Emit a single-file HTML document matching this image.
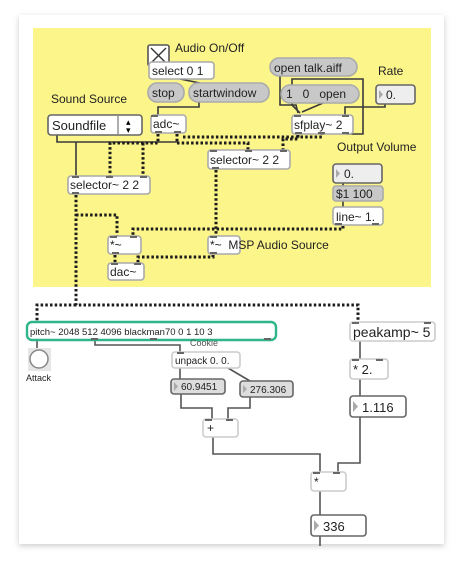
<!DOCTYPE html>
<html><head><style>
html,body{margin:0;padding:0;background:#fff;}
body{width:463px;height:560px;overflow:hidden;position:relative;font-family:"Liberation Sans",sans-serif;}
text{white-space:pre;}
</style></head><body>
<svg width="463" height="560" xmlns="http://www.w3.org/2000/svg" font-family="Liberation Sans, sans-serif">
<defs>
<filter id="sh" x="-5%" y="-5%" width="110%" height="110%"><feGaussianBlur stdDeviation="3"/></filter>
</defs>
<rect x="19" y="17" width="425" height="529" fill="#ccc" filter="url(#sh)"/>
<rect x="19" y="15" width="425" height="529" fill="#fff"/>
<rect x="33" y="28" width="398" height="259" fill="#fbf58a"/>

<g fill="none" stroke="#3a3a3a" stroke-width="1.6">
<path d="M57 135 V142 H178"/>
<path d="M76 142 V176"/>
<path d="M180 79 L200 83"/>
<path d="M199 102 V107 H158 V115"/>
<path d="M280 76 V105 H296 L298 113"/>
<path d="M346 134 H363 V79 H292 V105 L300 113"/>
<path d="M323 103 L302 112"/>
<path d="M385 104 V107 H345 V115"/>
<path d="M343 183 V186 M343 201 V207"/>
</g>
<g fill="none" stroke="#555" stroke-width="1.6">
<path d="M37 340 V348"/>
<path d="M95 340 V345 H180 V352"/>
<path d="M180 368 V379"/>
<path d="M228 368 L250 381"/>
<path d="M181 394 V408 H212 V419"/>
<path d="M250 397 V408 H228 V419"/>
<path d="M213 437 V454 H320 V472"/>
<path d="M360 341 V359"/>
<path d="M360 379 V396"/>
<path d="M360 417 V463 H338 V472"/>
<path d="M320 491 V515"/>
<path d="M320 536 V546"/>
</g>

<g fill="none" stroke="#1c1c1c" stroke-width="3" stroke-dasharray="2.5,2.2">
<path d="M158 134 V143 H110 V176"/>
<path d="M177 134 V143"/>
<path d="M143 143 V176"/>
<path d="M183 137 H322 V134"/>
<path d="M177 143 H248 V150"/>
<path d="M298 135 V139 H283 V150"/>
<path d="M216 170 V236"/>
<path d="M76 195 V305 H358 V322"/>
<path d="M76 305 H37 V322"/>
<path d="M76 215 H117 V236"/>
<path d="M343 226 V229 H133 V236"/>
<path d="M115 255 V263"/>
<path d="M213 255 V257 H138 V263"/>
</g>

<g stroke-width="1.6">
<rect x="148" y="45" width="21" height="21" fill="#fff" stroke="#555" rx="2"/>
<path d="M151 48 L166 63 M166 48 L151 63" stroke="#333" stroke-width="1.4"/>
<rect x="149" y="62" width="65" height="17" rx="3" fill="#fff" stroke="#aaa"/>
<rect x="148" y="83" width="36" height="19" rx="9" fill="#c8c8c8" stroke="#aaa"/>
<rect x="189" y="83" width="80" height="19" rx="9" fill="#c8c8c8" stroke="#aaa"/>
<rect x="48" y="115" width="94" height="20" rx="3" fill="#fff" stroke="#666"/>
<line x1="118" y1="116" x2="118" y2="134" stroke="#999"/>
<rect x="151" y="115" width="35" height="18" rx="3" fill="#fff" stroke="#aaa"/>
<rect x="270" y="58" width="87" height="18" rx="9" fill="#c8c8c8" stroke="#aaa"/>
<rect x="281" y="85" width="78" height="18" rx="9" fill="#c8c8c8" stroke="#aaa"/>
<rect x="376" y="85" width="39" height="19" rx="3" fill="#eee" stroke="#666"/>
<rect x="292" y="115" width="61" height="19" rx="3" fill="#fff" stroke="#aaa"/>
<rect x="208" y="150" width="82" height="19" rx="3" fill="#fff" stroke="#aaa"/>
<rect x="68" y="176" width="82" height="18" rx="3" fill="#fff" stroke="#aaa"/>
<rect x="333" y="164" width="49" height="19" rx="3" fill="#eee" stroke="#666"/>
<rect x="333" y="186" width="50" height="15" rx="3" fill="#c8c8c8" stroke="#aaa"/>
<rect x="333" y="207" width="50" height="18" rx="3" fill="#fff" stroke="#aaa"/>
<rect x="108" y="236" width="33" height="18" rx="3" fill="#fff" stroke="#aaa"/>
<rect x="208" y="236" width="32" height="18" rx="3" fill="#fff" stroke="#aaa"/>
<rect x="108" y="263" width="36" height="17" rx="3" fill="#fff" stroke="#aaa"/>

<rect x="27" y="322" width="249" height="18" rx="5" fill="#fff" stroke="#2fb58a" stroke-width="2.4"/>
<rect x="28" y="348" width="23" height="23" fill="#e6e6e6" stroke="none"/>
<circle cx="39" cy="359" r="9" fill="#fff" stroke="#888" stroke-width="1.5"/>
<rect x="172" y="352" width="68" height="16" rx="3" fill="#fff" stroke="#ccc"/>
<rect x="171" y="379" width="54" height="15" rx="3" fill="#ddd" stroke="#666"/>
<rect x="240" y="381" width="53" height="16" rx="3" fill="#ddd" stroke="#666"/>
<rect x="203" y="419" width="35" height="18" rx="3" fill="#fff" stroke="#ccc"/>
<rect x="350" y="322" width="85" height="19" rx="3" fill="#fff" stroke="#ccc"/>
<rect x="350" y="359" width="38" height="20" rx="3" fill="#fff" stroke="#ccc"/>
<rect x="350" y="396" width="56" height="21" rx="3" fill="#fff" stroke="#666"/>
<rect x="311" y="472" width="35" height="19" rx="3" fill="#fff" stroke="#ccc"/>
<rect x="311" y="515" width="55" height="21" rx="3" fill="#fff" stroke="#666"/>
</g>
<!-- inlet/outlet tabs -->
<g fill="#666">
<rect x="151" y="115" width="7" height="2"/><rect x="155" y="131" width="7" height="2"/><rect x="174" y="131" width="7" height="2"/>
<rect x="294" y="115" width="7" height="2"/><rect x="342" y="115" width="7" height="2"/><rect x="295" y="132" width="7" height="2"/><rect x="318" y="132" width="7" height="2"/><rect x="342" y="132" width="7" height="2"/>
<rect x="210" y="150" width="7" height="2"/><rect x="245" y="150" width="7" height="2"/><rect x="280" y="150" width="7" height="2"/><rect x="212" y="167" width="7" height="2"/>
<rect x="72" y="176" width="7" height="2"/><rect x="106" y="176" width="7" height="2"/><rect x="140" y="176" width="7" height="2"/><rect x="72" y="192" width="7" height="2"/>
<rect x="110" y="236" width="7" height="2"/><rect x="130" y="236" width="7" height="2"/><rect x="112" y="252" width="7" height="2"/>
<rect x="210" y="236" width="7" height="2"/><rect x="210" y="252" width="7" height="2"/>
<rect x="111" y="263" width="7" height="2"/><rect x="134" y="263" width="7" height="2"/>
<rect x="335" y="223" width="7" height="2"/><rect x="372" y="223" width="7" height="2"/>
<rect x="352" y="322" width="7" height="2"/><rect x="424" y="322" width="7" height="2"/>
<rect x="352" y="359" width="7" height="2"/><rect x="376" y="359" width="7" height="2"/>
<rect x="313" y="472" width="7" height="2"/><rect x="333" y="472" width="7" height="2"/>
<rect x="205" y="419" width="7" height="2"/><rect x="226" y="419" width="7" height="2"/>
<rect x="177" y="352" width="7" height="2"/>
<rect x="91" y="338" width="7" height="2"/><rect x="150" y="338" width="7" height="2"/><rect x="264" y="338" width="7" height="2"/>
</g>
<g fill="#aaa">
<path d="M379 90 L383 94.5 L379 99Z"/><path d="M336 169 L340 173.5 L336 178Z"/>
<path d="M174 382 L178 386.5 L174 391Z"/><path d="M243 385 L247 389 L243 393Z"/>
<path d="M353 401 L358 406.5 L353 412Z"/><path d="M314 520 L319 525.5 L314 531Z"/>
</g>
<text x="126" y="125" font-size="9">▴</text><text x="126" y="133" font-size="9">▾</text>

<g font-size="12" fill="#222">
<text x="175" y="52">Audio On/Off</text>
<text x="152" y="75">select 0 1</text>
<text x="152" y="97">stop</text>
<text x="193" y="97">startwindow</text>
<text x="51" y="103">Sound Source</text>
<text x="52" y="130" font-size="13">Soundfile</text>
<text x="153" y="128">adc~</text>
<text x="274" y="72">open talk.aiff</text>
<text x="286" y="98">1   0   open</text>
<text x="378" y="75">Rate</text>
<text x="386" y="99">0.</text>
<text x="294" y="129">sfplay~ 2</text>
<text x="337" y="151">Output Volume</text>
<text x="210" y="164">selector~ 2 2</text>
<text x="70" y="189">selector~ 2 2</text>
<text x="344" y="178">0.</text>
<text x="336" y="198">$1 100</text>
<text x="336" y="221">line~ 1.</text>
<text x="110" y="249">*~</text>
<text x="210" y="249">*~  MSP Audio Source</text>
<text x="110" y="276">dac~</text>
<text x="30" y="335" font-size="9.5">pitch~ 2048 512 4096 blackman70 0 1 10 3</text>
<text x="190" y="346" font-size="9" fill="#555">Cookie</text>
<text x="26" y="381" font-size="9">Attack</text>
<text x="175" y="364" font-size="10">unpack 0. 0.</text>
<text x="181" y="390" font-size="10">60.9451</text>
<text x="250" y="393" font-size="10">276.306</text>
<text x="207" y="432">+</text>
<text x="353" y="337" font-size="14">peakamp~ 5</text>
<text x="353" y="374" font-size="13">* 2.</text>
<text x="362" y="412" font-size="13">1.116</text>
<text x="314" y="486">*</text>
<text x="323" y="531" font-size="13">336</text>
</g>
</svg>
</body></html>
